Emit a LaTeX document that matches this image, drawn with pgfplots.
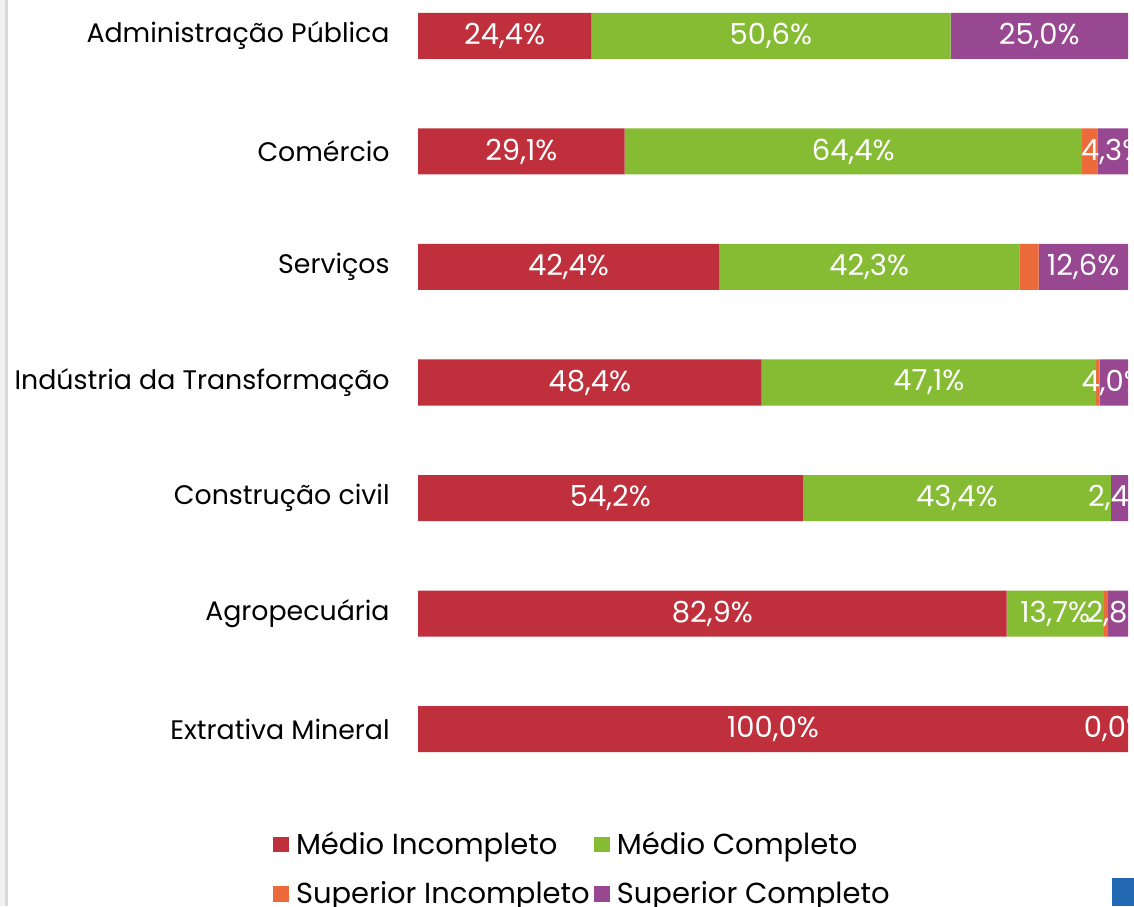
\documentclass[border=0pt]{standalone}
\usepackage{fontspec}
\setmainfont{Poppins}
\usepackage{pgfplots}
\pgfplotsset{compat=1.18}
\usepackage{pgfplotstable}

\definecolor{cMI}{HTML}{C0303C}
\definecolor{cMC}{HTML}{86BC34}
\definecolor{cSI}{HTML}{ED6B3B}
\definecolor{cSC}{HTML}{984891}
\definecolor{cBlue}{HTML}{2369B3}

% y: 6 = Administracao Publica (top) ... 0 = Extrativa Mineral (bottom)
\pgfplotstableread{
y v
6 24.4
5 29.1
4 42.4
3 48.4
2 54.2
1 82.9
0 100.0
}\tMI
\pgfplotstableread{
y v
6 50.6
5 64.4
4 42.3
3 47.1
2 43.4
1 13.7
0 0.0
}\tMC
\pgfplotstableread{
y v
6 0.0
5 2.2
4 2.7
3 0.5
2 0.0
1 0.6
0 0.0
}\tSI
\pgfplotstableread{
y v
6 25.0
5 4.3
4 12.6
3 4.0
2 2.4
1 2.8
0 0.0
}\tSC

\pgfplotsset{
  sq/.style={legend image code/.code={\fill[##1,draw=none] (0pt,-3.9pt) rectangle (8pt,3.9pt);}},
  lbl/.style={
    point meta=explicit,
    nodes near coords={\pgfmathprintnumber[fixed,fixed zerofill,precision=1,use comma,assume math mode=true]{\pgfplotspointmeta}\%},
    every node near coord/.style={anchor=center, text=white, inner sep=0pt,
      font=\fontsize{14.5}{16}\selectfont},
  },
}

\begin{document}
\begin{tikzpicture}
\useasboundingbox (0,0) rectangle (567pt,453pt);
\clip (0,0) rectangle (567pt,453pt);
\fill[white] (0,0) rectangle (567pt,453pt);
\fill[black!5] (0,0) rectangle (2.5pt,453pt);
\fill[black!15] (2.5pt,0) rectangle (4pt,453pt);
\fill[cBlue] (556pt,0) rectangle (567pt,14pt);
\begin{axis}[
  at={(209pt,59.625pt)}, anchor=south west,
  scale only axis, width=355pt, height=392.7pt,
  xbar stacked, bar width=23pt,
  xmin=0, xmax=100, ymin=-0.5, ymax=6.3,
  axis line style={draw=none},
  xtick=\empty,
  ytick={0,1,2,3,4,5,6},
  yticklabels={Extrativa Mineral, Agropecuária, Construção civil, Indústria da Transformação, Serviços, Comércio, Administração Pública},
  major tick length=0pt,
  yticklabel style={font=\fontsize{13.4}{16}\selectfont, anchor=east, inner sep=0pt, xshift=-14pt, text=black},
  clip=false,
  legend columns=2,
  legend cell align=left,
  legend style={draw=none, fill=none, inner sep=0pt, outer sep=0pt,
    at={(-0.2042,-0.052)}, anchor=north west,
    font=\fontsize{14.5}{16}\selectfont,
    row sep=8pt,
    /tikz/every odd column/.append style={column sep=1.5pt},
    /tikz/every even column/.append style={column sep=0pt}},
  after end axis/.code={
    \node[text=white, inner sep=0pt, font=\fontsize{14.5}{16}\selectfont, xshift=-6pt] at (axis cs:100,0) {0,0\%};
  },
]
\addplot[fill=cMI, draw=none, sq, lbl] table[x=v, y=y, meta=v] {\tMI};
\addlegendentry{Médio Incompleto}
\addplot[fill=cMC, draw=none, sq, lbl] table[x=v, y=y, meta=v] {\tMC};
\addlegendentry{Médio Completo}
\addplot[fill=cSI, draw=none, sq] table[x=v, y=y] {\tSI};
\addlegendentry{Superior Incompleto}
\addplot[fill=cSC, draw=none, sq, lbl] table[x=v, y=y, meta=v] {\tSC};
\addlegendentry{Superior Completo}
\end{axis}
\end{tikzpicture}
\end{document}
